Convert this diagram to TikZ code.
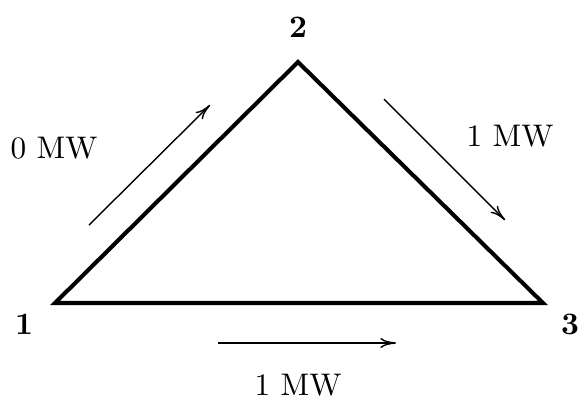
\documentclass[tikz,border=0pt]{standalone}
\usetikzlibrary{arrows.meta}
\begin{document}
\begin{tikzpicture}[x=0.32pt,y=-0.32pt,
  edge/.style={line width=1.3pt,line join=miter},
  flow/.style={line width=0.45pt,-{To[length=5pt,width=3.2pt]}},
  vlabel/.style={font=\bfseries,inner sep=0pt},
  wlabel/.style={inner sep=0pt}]
\useasboundingbox (0,0) rectangle (582,399);
\coordinate (n1) at (55,303);
\coordinate (n2) at (298,62);
\coordinate (n3) at (543,303);
\draw[edge] (n1) -- (n2) -- (n3) -- cycle;
\coordinate (a1s) at (89,225);
\coordinate (a1e) at (210,105);
\coordinate (a2s) at (384,99);
\coordinate (a2e) at (505,220);
\coordinate (a3s) at (218,343);
\coordinate (a3e) at (396,343);
\draw[flow] (a1s) -- (a1e);
\draw[flow] (a2s) -- (a2e);
\draw[flow] (a3s) -- (a3e);
\node[vlabel] (l1) at (24,324) {1};
\node[vlabel] (l2) at (298,27) {2};
\node[vlabel] (l3) at (570,324) {3};
\node[wlabel] (w12) at (54,148) {0 MW};
\node[wlabel] (w23) at (510,136) {1 MW};
\node[wlabel] (w13) at (298,385) {1 MW};
\end{tikzpicture}
\end{document}
